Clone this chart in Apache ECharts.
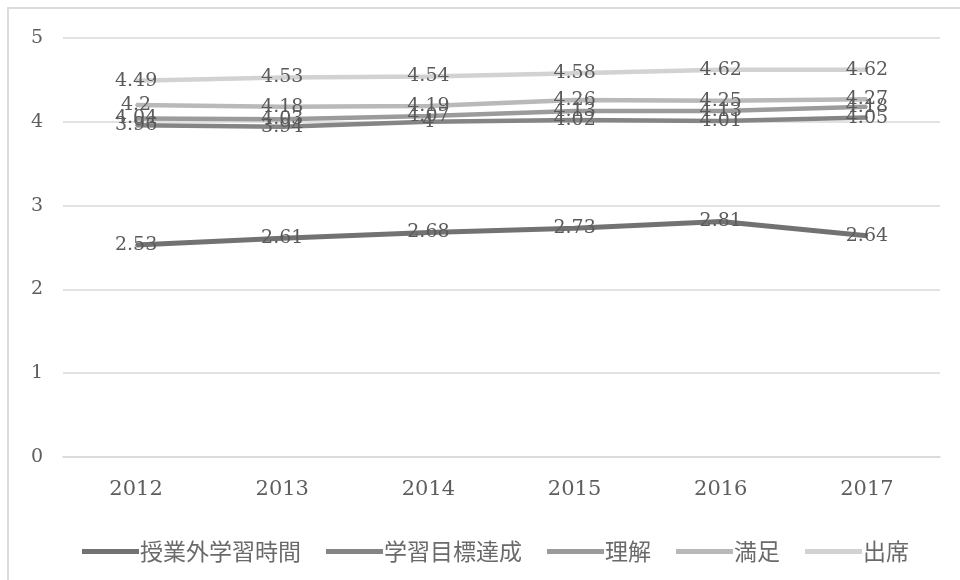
<!DOCTYPE html>
<html>
<head>
<meta charset="utf-8">
<script src="https://cdn.jsdelivr.net/npm/echarts@6/dist/echarts.min.js"></script>
<style>
  html, body { margin: 0; padding: 0; background: #ffffff; }
  #chart { width: 960px; height: 580px; }
</style>
</head>
<body>
<div id="chart"></div>
<script>
// Survey averages by academic year
const years = ['2012', '2013', '2014', '2015', '2016', '2017'];
const seriesNames = ['授業外学習時間', '学習目標達成', '理解', '満足', '出席'];
const studyHours = [2.53, 2.61, 2.68, 2.73, 2.81, 2.64];
const goalAchievement = [3.96, 3.94, 4, 4.02, 4.01, 4.05];
const understanding = [4.04, 4.03, 4.07, 4.13, 4.13, 4.18];
const satisfaction = [4.2, 4.18, 4.19, 4.26, 4.25, 4.27];
const attendance = [4.49, 4.53, 4.54, 4.58, 4.62, 4.62];
const yTicks = [0, 1, 2, 3, 4, 5];

const seriesData = [studyHours, goalAchievement, understanding, satisfaction, attendance];
const lineColors = ['#727272', '#858585', '#9b9b9b', '#b9b9b9', '#d2d2d2'];
const lineWidths = [5, 4.5, 4.5, 4.5, 4.5];

const serif = '"DejaVu Serif", "Liberation Serif", serif';

const chart = echarts.init(document.getElementById('chart'), null, { renderer: 'canvas' });

chart.setOption({
  backgroundColor: '#ffffff',
  animation: false,
  graphic: [{
    type: 'rect',
    shape: { x: 8, y: 8, width: 1000, height: 1000 },
    style: { fill: 'none', stroke: '#dcdcdc', lineWidth: 2 },
    silent: true
  }],
  grid: { left: 63, right: 20, top: 38, bottom: 123 },
  xAxis: {
    type: 'category',
    data: years,
    boundaryGap: true,
    axisLine: { show: true, lineStyle: { color: '#d9d9d9', width: 1.5 } },
    axisTick: { show: false },
    axisLabel: { color: '#5e5e5e', fontFamily: serif, fontSize: 21, margin: 22 }
  },
  yAxis: {
    type: 'value',
    min: yTicks[0],
    max: yTicks[yTicks.length - 1],
    interval: 1,
    axisLine: { show: false },
    axisTick: { show: false },
    splitLine: { lineStyle: { color: '#d9d9d9', width: 1.5 } },
    axisLabel: { color: '#5e5e5e', fontFamily: serif, fontSize: 19, margin: 26, align: 'center' }
  },
  legend: {
    bottom: 12,
    left: 77,
    itemWidth: 57,
    itemHeight: 5,
    itemGap: 25,
    icon: 'rect',
    textStyle: {
      color: '#6a6a6a',
      fontFamily: '"Noto Sans CJK JP", sans-serif',
      fontSize: 23,
      padding: [0, 0, 0, -4]
    },
    data: seriesNames
  },
  series: seriesNames.map((name, i) => ({
    name: name,
    type: 'line',
    data: seriesData[i],
    symbol: 'circle',
    symbolSize: 2,
    showSymbol: true,
    showAllSymbol: true,
    color: lineColors[i],
    itemStyle: { color: lineColors[i] },
    lineStyle: { color: lineColors[i], width: lineWidths[i] },
    label: {
      show: true,
      position: 'inside',
      color: '#5a5a5a',
      fontFamily: serif,
      fontSize: 19
    },
    labelLayout: { hideOverlap: false }
  }))
});
</script>
</body>
</html>
